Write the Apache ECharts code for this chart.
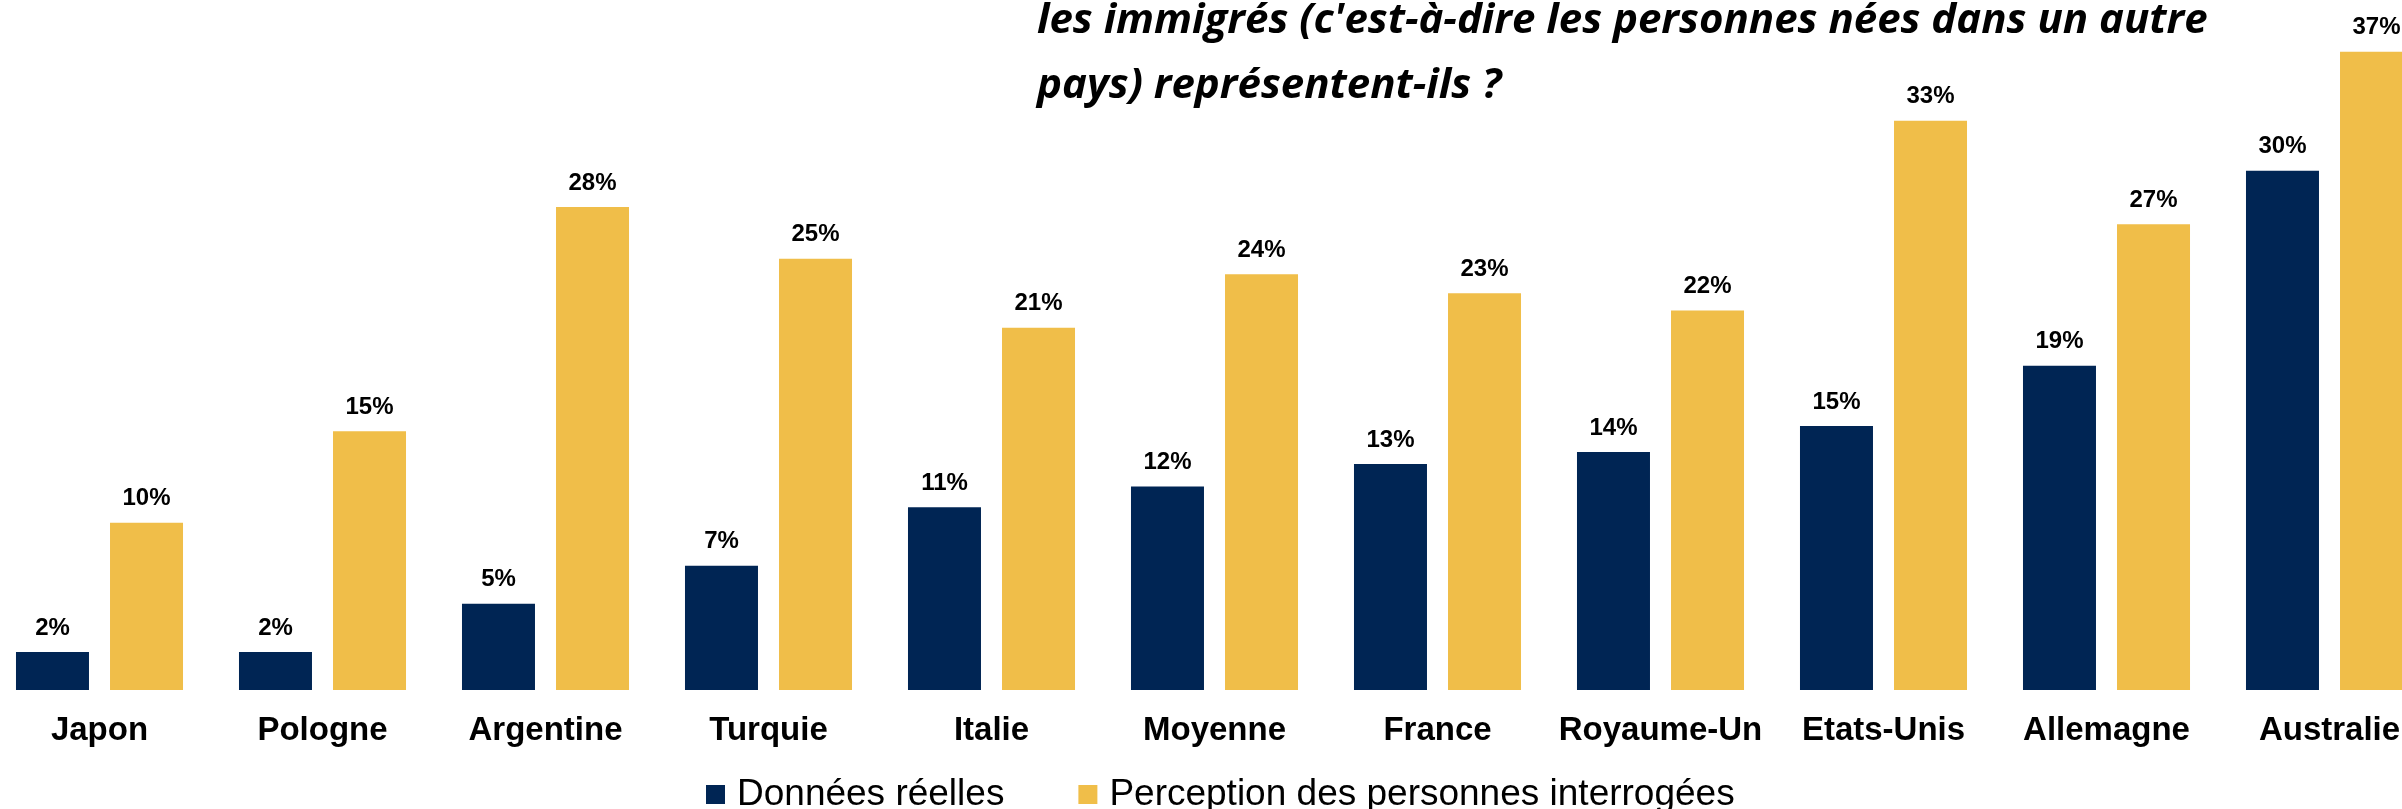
<!DOCTYPE html>
<html>
<head>
    <meta charset="utf-8">
    <script src="https://cdn.jsdelivr.net/npm/echarts@6/dist/echarts.min.js"></script>
    <style>
        html, body { width: 100%; height: 100%; margin: 0; background: #fff; }
        #main { width: 2402px; height: 809px; }
    </style>
</head>
<body>
    <div id="main"></div>
    <script>
        var countries = ['Japon', 'Pologne', 'Argentine', 'Turquie', 'Italie', 'Moyenne',
            'France', 'Royaume-Un', 'Etats-Unis', 'Allemagne', 'Australie'];
        var reel = [2.2, 2.2, 5.0, 7.2, 10.6, 11.8, 13.1, 13.8, 15.3, 18.8, 30.1];
        var perception = [9.7, 15.0, 28.0, 25.0, 21.0, 24.1, 23.0, 22.0, 33.0, 27.0, 37.0];
        var titleLines = [
            "les immigrés (c'est-à-dire les personnes nées dans un autre",
            'pays) représentent-ils ?'
        ];

        var chart = echarts.init(document.getElementById('main'));

        var label = {
            show: true,
            position: 'top',
            distance: 12,
            color: '#000',
            fontFamily: 'Liberation Sans, Arial, sans-serif',
            fontWeight: 'bold',
            fontSize: 24,
            formatter: function (p) { return Math.round(p.value) + '%'; }
        };

        var option = {
            animation: false,
            title: {
                text: titleLines.join('\n'),
                left: 1037,
                top: -11,
                padding: 0,
                textStyle: {
                    fontFamily: 'Open Sans',
                    fontStyle: 'italic',
                    fontWeight: 'bold',
                    fontSize: 42,
                    lineHeight: 65,
                    color: '#000'
                }
            },
            legend: {
                left: 706,
                top: 776,
                padding: 0,
                icon: 'rect',
                itemWidth: 19,
                itemHeight: 19,
                itemGap: 74,
                textStyle: {
                    fontFamily: 'Liberation Sans, Arial, sans-serif',
                    fontSize: 37,
                    color: '#000',
                    padding: [0, 0, 0, 7]
                }
            },
            grid: {
                left: -12,
                width: 2453,
                top: 0,
                bottom: 119,
                outerBoundsMode: 'none'
            },
            xAxis: {
                type: 'category',
                data: countries,
                axisLine: { show: false },
                axisTick: { show: false },
                axisLabel: {
                    margin: 24,
                    color: '#000',
                    fontFamily: 'Liberation Sans, Arial, sans-serif',
                    fontWeight: 'bold',
                    fontSize: 33,
                    interval: 0
                }
            },
            yAxis: {
                type: 'value',
                min: 0,
                max: 40,
                show: false,
                splitLine: { show: false }
            },
            series: [
                {
                    name: 'Données réelles',
                    type: 'bar',
                    data: reel,
                    barWidth: 73,
                    barGap: '28.8%',
                    itemStyle: { color: '#002554' },
                    label: label
                },
                {
                    name: 'Perception des personnes interrogées',
                    type: 'bar',
                    data: perception,
                    barWidth: 73,
                    itemStyle: { color: '#F0BE49' },
                    label: label
                }
            ]
        };
        chart.setOption(option);
    </script>
</body>
</html>
